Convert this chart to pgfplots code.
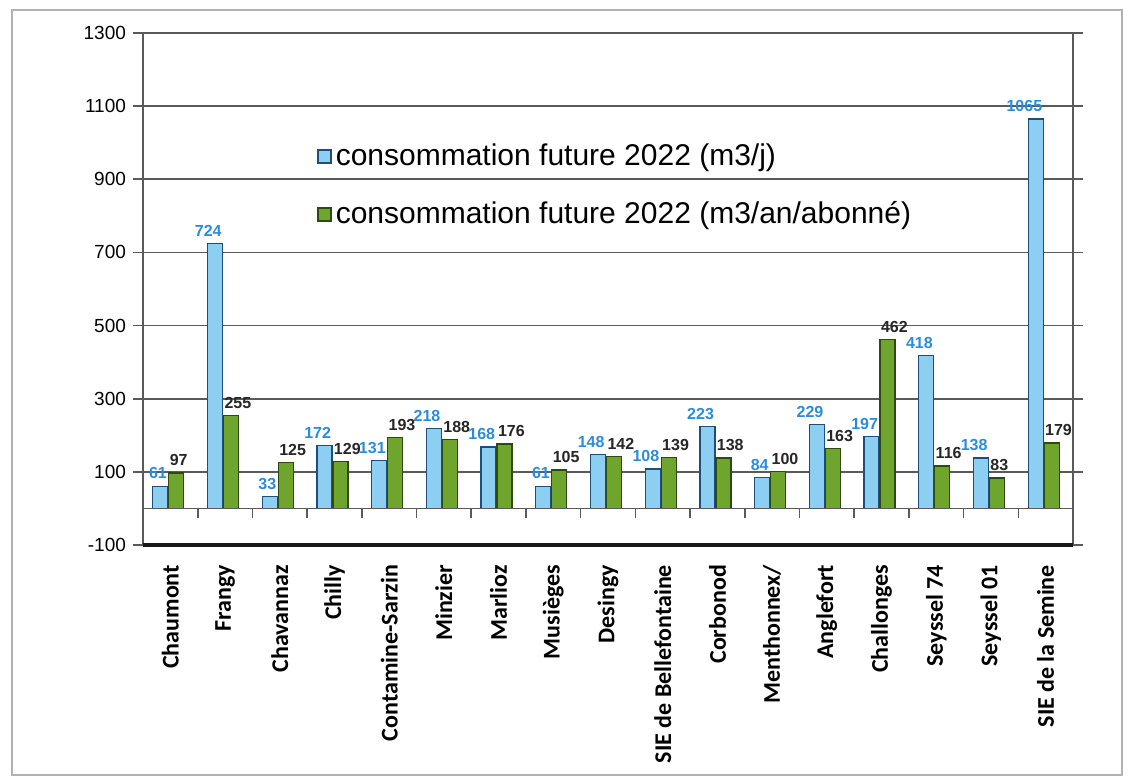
\documentclass[border=0pt]{standalone}
\usepackage{fontspec}
\setmainfont{Liberation Sans}
\newfontfamily\calibri{Carlito}
\usepackage{pgfplots}
\usepackage{pgfplotstable}
\pgfplotsset{compat=1.18}

\definecolor{barblue}{HTML}{8DCFF2}
\definecolor{edgeblue}{HTML}{1D4F7A}
\definecolor{bargreen}{HTML}{6FA52C}
\definecolor{edgegreen}{HTML}{2E4A12}
\definecolor{lblblue}{HTML}{2A8CDB}
\definecolor{gridc}{HTML}{5A5A5A}

% x = position of the commune, jour = m3/j, abonne = m3/an/abonne
\pgfplotstableread{
x jour abonne
0 61 97
1 724 255
2 33 125
3 172 129
4 131 193
5 218 188
6 168 176
7 61 105
8 148 142
9 108 139
10 223 138
11 84 100
12 229 163
13 197 462
14 418 116
15 138 83
16 1065 179
}\conso

\begin{document}
\begin{tikzpicture}
\useasboundingbox (0,0) rectangle (567.5pt,389pt);
\draw[gray!60, line width=0.8pt] (6pt,1.5pt) rectangle (561pt,384pt);

\begin{axis}[
  at={(71.5pt,116.5pt)}, anchor=south west,
  scale only axis, width=465pt, height=256pt,
  xmin=-0.5, xmax=16.5,
  ymin=-100, ymax=1300,
  ytick={-100,100,...,1300},
  ymajorgrids,
  grid style={gridc, line width=0.8pt},
  axis line style={gridc, line width=1pt},
  xtick={0,...,16},
  xticklabels={Chaumont, Frangy, Chavannaz, Chilly, Contamine-Sarzin, Minzier, Marlioz, Musièges, Desingy, SIE de Bellefontaine, Corbonod, Menthonnex/, Anglefort, Challonges, Seyssel 74, Seyssel 01, SIE de la Semine},
  x tick style={draw=none},
  xticklabel style={rotate=90, anchor=east, font=\calibri\bfseries\fontsize{12}{14}\selectfont},
  xticklabel shift=1.5pt,
  y tick style={gridc, line width=0.8pt},
  tick align=outside,
  major tick length=5pt,
  yticklabel style={font=\fontsize{9.5}{11}\selectfont},
  /pgf/number format/assume math mode=true,
  /pgf/number format/1000 sep={},
  ybar, bar width=7.5pt,
  legend style={at={(0.18,0.80)}, anchor=north west, draw=none, fill=none,
    font=\fontsize{15}{18}\selectfont, row sep=12.5pt,
    /tikz/every even column/.append style={column sep=1pt}},
  legend cell align=left,
  legend image code/.code={\draw[#1, line width=1pt] (0pt,-3.6pt) rectangle (6.5pt,2.9pt);},
]
\addplot[fill=barblue, draw=edgeblue, line width=0.6pt, bar shift=-5pt,
  nodes near coords,
  every node near coord/.append style={font=\bfseries\fontsize{8}{10}\selectfont, text=lblblue,
    anchor=south east, inner sep=0.2pt, xshift=3.75pt, yshift=3pt}]
  table[x=x, y=jour] {\conso};
\addlegendentry{consommation future 2022 (m3/j)}
\addplot[fill=bargreen, draw=edgegreen, line width=0.6pt, bar shift=3pt,
  nodes near coords,
  every node near coord/.append style={font=\bfseries\fontsize{8}{10}\selectfont, text=black!85,
    anchor=south west, inner sep=0.2pt, xshift=-3.75pt, yshift=3pt}]
  table[x=x, y=abonne] {\conso};
\addlegendentry{consommation future 2022 (m3/an/abonné)}
\end{axis}

% floor line at 0 with the category separators
\begin{axis}[
  at={(71.5pt,116.5pt)}, anchor=south west,
  scale only axis, width=465pt, height=256pt,
  xmin=-0.5, xmax=16.5,
  ymin=-100, ymax=1300,
  axis x line=middle, axis y line=none,
  axis line style={-, gridc, line width=0.8pt},
  xtick={-0.5,0.5,...,16.5},
  xticklabels={},
  ytick=\empty,
  tick align=outside,
  major tick length=5pt,
  x tick style={gridc, line width=0.8pt},
]
\end{axis}
\draw[gray!20!black, line width=1.6pt] (71.5pt,116.5pt) -- (536.5pt,116.5pt);
\end{tikzpicture}
\end{document}
